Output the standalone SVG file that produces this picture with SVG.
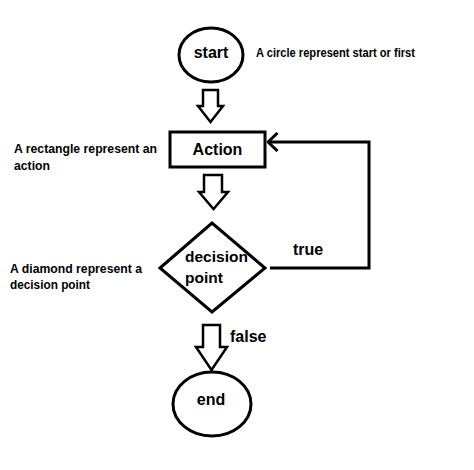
<svg xmlns="http://www.w3.org/2000/svg" width="474" height="470" viewBox="0 0 474 470">
  <style>
    .shape { fill: #fff; stroke: #000; stroke-width: 3; }
    .block { fill: #fff; stroke: #000; stroke-width: 2.5; stroke-linejoin: miter; }
    .line { fill: none; stroke: #000; stroke-width: 3; }
    .lbl { font-family: "Liberation Sans", Arial, sans-serif; font-weight: bold; font-size: 16px; fill: #000; }
    .note { font-family: "Liberation Sans", Arial, sans-serif; font-weight: bold; font-size: 12.5px; fill: #000; }
  </style>
  <defs>
    <marker id="chev" viewBox="0 0 12 20" refX="10.5" refY="10" markerWidth="12" markerHeight="20" markerUnits="userSpaceOnUse" orient="auto">
      <polyline points="1,1 10.5,10 1,19" fill="none" stroke="#000" stroke-width="3"/>
    </marker>
  </defs>
  <rect width="474" height="470" fill="#fff"/>

  <g id="connectors">
    <polygon class="block" points="203,90 218,90 218,106 223,106 210.5,122 198,106 203,106"/>
    <polygon class="block" points="204,175 222,175 222,192 228,192 213.5,209 199,192 204,192"/>
    <polygon class="block" points="203,325 220,325 220,347 227,347 211.5,370 196,347 203,347"/>
    <polyline class="line" points="270,268 369,268 369,142 268,142" marker-end="url(#chev)"/>
    <text class="lbl" x="293" y="255">true</text>
    <text class="lbl" x="230" y="342">false</text>
  </g>

  <g id="start">
    <ellipse class="shape" cx="211" cy="55" rx="32" ry="27"/>
    <text class="lbl" x="211" y="58" text-anchor="middle">start</text>
  </g>

  <g id="action">
    <rect class="shape" x="170" y="132" width="95" height="35"/>
    <text class="lbl" x="217.5" y="155" text-anchor="middle">Action</text>
  </g>

  <g id="decision">
    <polygon class="shape" points="160,268 212,223 265,268 212,312"/>
    <text class="lbl" x="185" y="262" style="font-size:15.5px">decision</text>
    <text class="lbl" x="185" y="283" style="font-size:15.5px">point</text>
  </g>

  <g id="end">
    <ellipse class="shape" cx="212" cy="404" rx="39" ry="32"/>
    <text class="lbl" x="211" y="405" text-anchor="middle">end</text>
  </g>

  <g id="notes">
    <text class="note" x="256" y="57" textLength="159" lengthAdjust="spacingAndGlyphs">A circle represent start or first</text>
    <text class="note" x="14" y="153" textLength="143" lengthAdjust="spacingAndGlyphs">A rectangle represent an</text>
    <text class="note" x="14" y="170" textLength="36" lengthAdjust="spacingAndGlyphs">action</text>
    <text class="note" x="10" y="273" textLength="132" lengthAdjust="spacingAndGlyphs">A diamond represent a</text>
    <text class="note" x="10" y="289" textLength="80" lengthAdjust="spacingAndGlyphs">decision point</text>
  </g>
</svg>
